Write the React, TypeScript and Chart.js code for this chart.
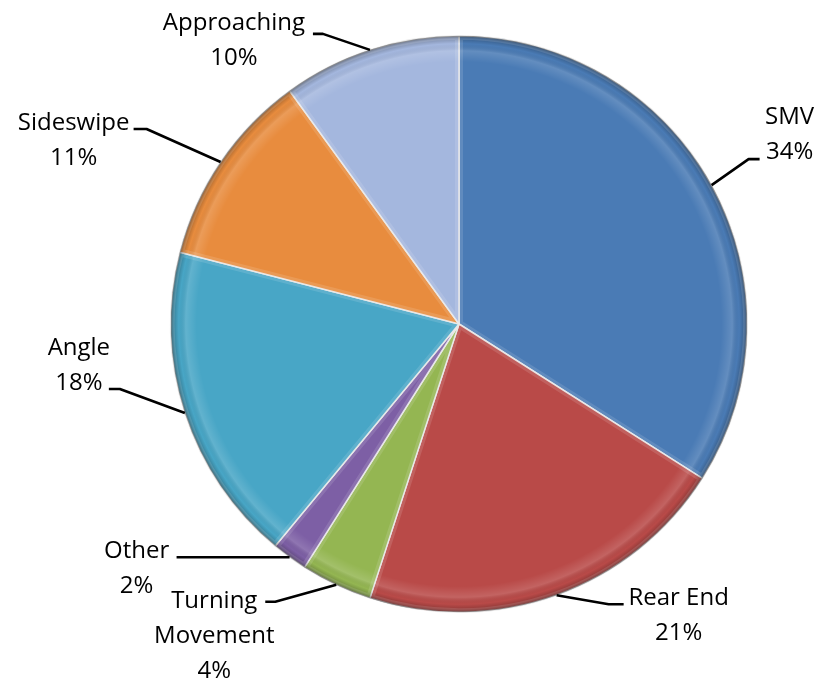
import React, { useEffect, useRef } from "react";
import { Chart, registerables } from "chart.js";

Chart.register(...registerables);

// ---- data ----
const CATEGORIES = ["SMV", "Rear End", "Turning Movement", "Other", "Angle", "Sideswipe", "Approaching"];
const SHARES = [34, 21, 4, 2, 18, 11, 10];
const COLORS = ["#4a7bb5", "#b94a48", "#94b652", "#7d5fa5", "#48a6c6", "#e88c3e", "#a4b7de"];

// ---- label layout (offsets from the slice's outer-edge anchor) ----
const LABEL_LAYOUT = [
  { elbow: [37, -26], end: [48, -26], text: [78, -50], wrap: false },
  { elbow: [52, 9], end: [67, 9], text: [122, 20], wrap: false },
  { elbow: [-61, 17], end: [-71, 17], text: [-122, 51], wrap: true },
  { elbow: [-110, 0], end: [-113, 0], text: [-153, 11], wrap: false },
  { elbow: [-65, -24], end: [-76, -24], text: [-106, -47], wrap: false },
  { elbow: [-74, -33], end: [-87, -33], text: [-147, -21], wrap: false },
  { elbow: [-47, -16], end: [-57, -16], text: [-136, -9], wrap: false },
];

const FONT = "24px 'Open Sans'";
const LINE_H = 35;

const piePlugin = {
  id: "bevelAndLabels",
  afterDatasetsDraw(chart: any) {
    const ctx = chart.ctx as CanvasRenderingContext2D;
    const meta = chart.getDatasetMeta(0);
    meta.data.forEach((arc: any) => {
      const { x, y, startAngle, endAngle, outerRadius } = arc.getProps(
        ["x", "y", "startAngle", "endAngle", "outerRadius"],
        true
      );
      const r = outerRadius;
      ctx.save();
      ctx.beginPath();
      ctx.moveTo(x, y);
      ctx.arc(x, y, r, startAngle, endAngle);
      ctx.closePath();
      ctx.clip();
      const g = ctx.createRadialGradient(x, y, 0, x, y, r);
      g.addColorStop(0, "rgba(255,255,255,0)");
      g.addColorStop((r - 26) / r, "rgba(255,255,255,0)");
      g.addColorStop((r - 15) / r, "rgba(255,255,255,0.14)");
      g.addColorStop((r - 8) / r, "rgba(0,0,0,0)");
      g.addColorStop((r - 3) / r, "rgba(0,0,0,0.2)");
      g.addColorStop(1, "rgba(0,0,0,0.5)");
      ctx.fillStyle = g;
      ctx.fillRect(x - r, y - r, 2 * r, 2 * r);
      // soft edge highlight along radial edges
      ctx.beginPath();
      ctx.moveTo(x, y);
      ctx.arc(x, y, r, startAngle, endAngle);
      ctx.closePath();
      ctx.strokeStyle = "rgba(255,255,255,0.12)";
      ctx.lineWidth = 8;
      ctx.stroke();
      ctx.restore();
    });
  },
  afterDraw(chart: any) {
    const ctx = chart.ctx as CanvasRenderingContext2D;
    const meta = chart.getDatasetMeta(0);
    const labels = chart.data.labels as string[];
    const values = chart.data.datasets[0].data as number[];
    meta.data.forEach((arc: any, i: number) => {
      const { x, y, startAngle, endAngle, outerRadius } = arc.getProps(
        ["x", "y", "startAngle", "endAngle", "outerRadius"],
        true
      );
      const mid = (startAngle + endAngle) / 2;
      const ax = x + Math.cos(mid) * outerRadius;
      const ay = y + Math.sin(mid) * outerRadius;
      const L = LABEL_LAYOUT[i];
      ctx.save();
      ctx.strokeStyle = "#000";
      ctx.lineWidth = 2.6;
      ctx.lineJoin = "round";
      ctx.beginPath();
      ctx.moveTo(ax, ay);
      ctx.lineTo(ax + L.elbow[0], ay + L.elbow[1]);
      ctx.lineTo(ax + L.end[0], ay + L.end[1]);
      ctx.stroke();

      const name = labels[i];
      const lines = L.wrap ? name.split(" ") : [name];
      lines.push(`${values[i]}%`);
      ctx.font = FONT;
      ctx.fillStyle = "#000";
      ctx.textAlign = "center";
      ctx.textBaseline = "middle";
      const cx = ax + L.text[0];
      const cy = ay + L.text[1];
      const n = lines.length;
      lines.forEach((t, k) => {
        ctx.fillText(t, cx, cy + (k - (n - 1) / 2) * LINE_H);
      });
      ctx.restore();
    });
  },
};

export default function App() {
  const ref = useRef<HTMLCanvasElement | null>(null);
  useEffect(() => {
    if (!ref.current) return;
    const chart = new Chart(ref.current, {
      type: "pie",
      data: {
        labels: CATEGORIES,
        datasets: [
          {
            data: SHARES,
            backgroundColor: COLORS,
            borderColor: "rgba(232,232,232,0.95)",
            borderWidth: 1.5,
          },
        ],
      },
      options: {
        responsive: false,
        animation: false,
        layout: { padding: { left: 170, right: 72, top: 35, bottom: 73 } },
        plugins: {
          legend: { display: false },
          tooltip: { enabled: false },
        },
      },
      plugins: [piePlugin],
    });
    return () => chart.destroy();
  }, []);
  return (
    <div style={{ position: "absolute", left: 0, top: 0, width: 820, height: 686, background: "#fff" }}>
      <canvas ref={ref} width={820} height={686} />
    </div>
  );
}
